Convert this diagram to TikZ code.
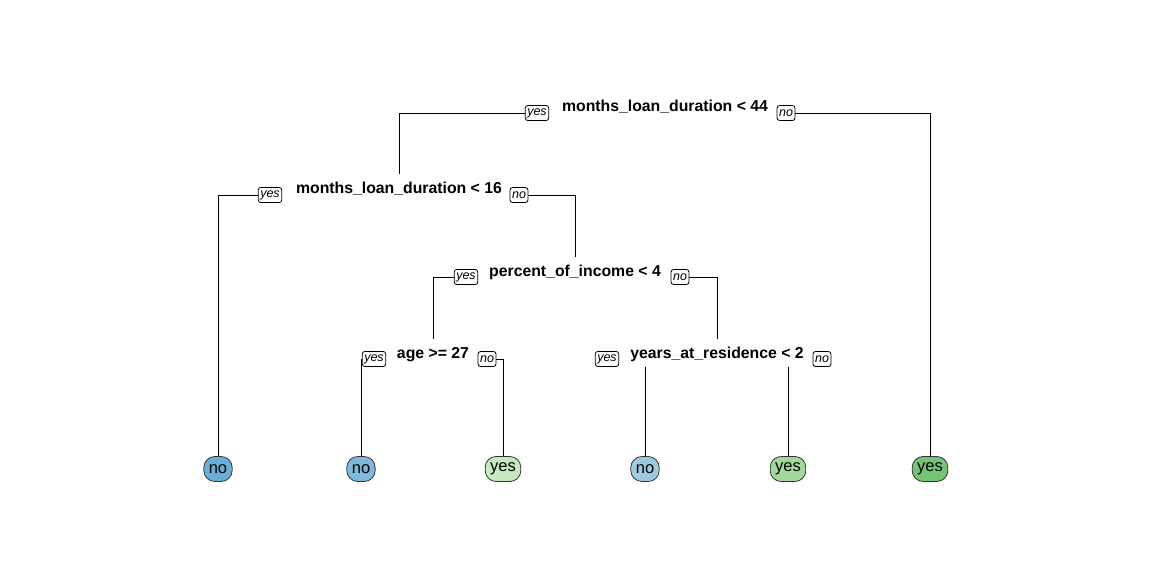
\documentclass[tikz,border=0pt]{standalone}
\usepackage{fontspec}
\setmainfont{Liberation Sans}
\usepackage{xcolor}
\usepackage{tikz}
\usetikzlibrary{positioning,calc}
\definecolor{leafBlueDark}{HTML}{6BAED6}
\definecolor{leafBlueMid}{HTML}{80B9DD}
\definecolor{leafBlueLight}{HTML}{9ECAE1}
\definecolor{leafGreenLight}{HTML}{C7E9C0}
\definecolor{leafGreenMid}{HTML}{A1D99B}
\definecolor{leafGreenDark}{HTML}{74C476}
\tikzset{
  split/.style={
    inner sep=0pt,
    minimum height=27pt,
    text depth=0pt,
    font=\bfseries\fontsize{15.8}{18}\selectfont
  },
  branchTag/.style={
    rectangle,
    rounded corners=2.5pt,
    draw=black,
    fill=white,
    line width=0.8pt,
    inner xsep=2pt,
    inner ysep=0pt,
    minimum height=15pt,
    font=\itshape\fontsize{12.5}{14}\selectfont
  },
  leaf/.style={
    rectangle,
    rounded corners=11pt,
    draw=black!80,
    line width=0.8pt,
    minimum height=25pt,
    inner xsep=5pt,
    font=\fontsize{16.5}{18}\selectfont
  },
  branch/.style={
    line width=1pt,
    draw=black
  }
}
\begin{document}
\begin{tikzpicture}[x=1pt,y=-1pt]
  \useasboundingbox (0,0) rectangle (1152,576);
  \node[split] (durA) at (665,106) {months\_loan\_duration < 44};
  \node[split] (durB) at (399,188) {months\_loan\_duration < 16};
  \node[split] (income) at (575,271) {percent\_of\_income < 4};
  \node[split] (age) at (433,353) {age >= 27};
  \node[split] (residence) at (717,353) {years\_at\_residence < 2};
  \node[leaf,fill=leafBlueDark] (leafA) at (218,469) {no};
  \node[leaf,fill=leafBlueMid] (leafB) at (361,469) {no};
  \node[leaf,fill=leafGreenLight] (leafC) at (503,469) {yes};
  \node[leaf,fill=leafBlueLight] (leafD) at (645,469) {no};
  \node[leaf,fill=leafGreenMid] (leafE) at (788,469) {yes};
  \node[leaf,fill=leafGreenDark] (leafF) at (930,469) {yes};
  \draw[branch] (537,113) node[branchTag] (yesA) {yes};
  \draw[branch] (786,113) node[branchTag] (noA) {no};
  \draw[branch] (270,195) node[branchTag] (yesB) {yes};
  \draw[branch] (519,195) node[branchTag] (noB) {no};
  \draw[branch] (466,277) node[branchTag] (yesC) {yes};
  \draw[branch] (680,277) node[branchTag] (noC) {no};
  \draw[branch] (374,359) node[branchTag] (yesD) {yes};
  \draw[branch] (487,359) node[branchTag] (noD) {no};
  \draw[branch] (607,359) node[branchTag] (yesE) {yes};
  \draw[branch] (822,359) node[branchTag] (noE) {no};
  \draw[branch] (yesA.west) -| (durB.north);
  \draw[branch] (noA.east) -| (leafF.north);
  \draw[branch] (yesB.west) -| (leafA.north);
  \draw[branch] (noB.east) -| (income.north);
  \draw[branch] (yesC.west) -| (age.north);
  \draw[branch] (noC.east) -| (residence.north);
  \draw[branch] (yesD.west) -| (leafB.north);
  \draw[branch] (noD.east) -| (leafC.north);
  \draw[branch] (leafD |- residence.south) -- (leafD.north);
  \draw[branch] (leafE |- residence.south) -- (leafE.north);
\end{tikzpicture}
\end{document}
